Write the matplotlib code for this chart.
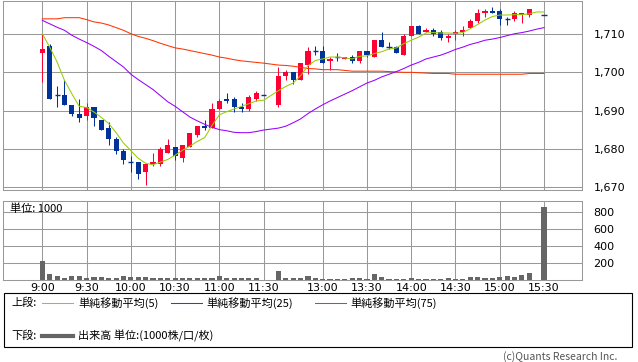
#!/usr/bin/env python3
"""Intraday 5-minute candlestick chart with moving averages and volume."""

import numpy as np
import matplotlib
matplotlib.use('Agg')
import matplotlib.pyplot as plt
from matplotlib.lines import Line2D
from matplotlib.patches import Rectangle
from matplotlib.ticker import FuncFormatter

plt.rcParams['font.family'] = ['Noto Sans CJK JP', 'DejaVu Sans']

# ---- data (5-minute bars, 9:00-11:30 and 12:30-15:30) ----
opens = [1705, 1707, 1694, 1694, 1691.5, 1689, 1688.5, 1691, 1687.5, 1685.5,
         1682.5, 1679.5, 1676.5, 1676.5, 1674, 1676, 1676, 1679, 1680.5, 1677.5,
         1680.5, 1683.5, 1686, 1685.5, 1690.5, 1693, 1693, 1691, 1690.5, 1693, 1694,
         1691.5, 1699, 1700, 1698, 1702, 1705.5, 1705.5, 1703, 1704, 1703.5,
         1704, 1703, 1705.5, 1704, 1708.5, 1706.5, 1706.5, 1704.5, 1709.5, 1712,
         1710.5, 1711, 1710.5, 1709, 1710, 1710.5, 1711.5, 1713.5, 1715.5, 1716,
         1716, 1714, 1714, 1715, 1715, None, 1715]
highs = [1710, 1707.5, 1696.5, 1698, 1691.5, 1693, 1692, 1691, 1687.5, 1687,
         1683, 1680, 1678, 1676.5, 1676, 1679, 1680.5, 1682.5, 1680.5, 1681,
         1684, 1686, 1687.5, 1692, 1693, 1694.5, 1693.5, 1692, 1694, 1695, 1694,
         1701.5, 1700.5, 1700, 1702.5, 1706.5, 1707, 1707, 1704, 1705, 1704,
         1704.5, 1705.5, 1705.5, 1708.5, 1710.5, 1708, 1707, 1710, 1712, 1712.5,
         1711.5, 1711.5, 1711, 1710, 1711, 1712, 1714, 1716.5, 1716.5, 1717,
         1716.5, 1714.5, 1716, 1715.5, 1716.5, None, 1715]
lows = [1697.5, 1693, 1691, 1691.5, 1688.5, 1687, 1687.5, 1686, 1685, 1681,
        1678.5, 1676, 1674, 1672, 1670.5, 1675.5, 1675.5, 1679, 1677, 1676.5,
        1680.5, 1683, 1685, 1685.5, 1690.5, 1692, 1689.5, 1689.5, 1690, 1692.5, 1694,
        1691, 1698, 1697, 1698, 1699.5, 1704.5, 1702.5, 1700.5, 1703, 1703.5,
        1702.5, 1702.5, 1704, 1704, 1706.5, 1706, 1705, 1704.5, 1709.5, 1710,
        1710.5, 1709.5, 1708.5, 1708, 1708.5, 1709.5, 1711.5, 1713, 1714.5, 1715.5,
        1712.5, 1712.5, 1713.5, 1713, 1714.5, None, 1715]
closes = [1706, 1693, 1694, 1691.5, 1689, 1688, 1691, 1688, 1685, 1682.5,
          1679.5, 1677, 1676.5, 1673.5, 1676, 1676.5, 1680, 1681, 1678, 1681,
          1684, 1686, 1685.5, 1690.5, 1692.5, 1692.5, 1691, 1690.5, 1693.5, 1694.5, 1694,
          1699, 1700, 1698, 1702.5, 1705.5, 1705.5, 1702.5, 1703.5, 1704, 1704,
          1703, 1705.5, 1704.5, 1708.5, 1706.5, 1706.5, 1705, 1709.5, 1712, 1710,
          1711, 1710, 1709, 1709.5, 1710.5, 1711, 1713.5, 1715.5, 1716, 1715.5,
          1714, 1714, 1715.5, 1715.5, 1716.5, None, 1715]
ma5 = [1710.1, 1706.6, 1702.7, 1697.9, 1694.4, 1691.1, 1690.8, 1689.6, 1688.2, 1686.6,
       1684.2, 1681.5, 1679.5, 1677.5, 1676.2, 1675.8, 1676.5, 1677.2, 1678.3, 1679.6,
       1680.7, 1681.9, 1682.9, 1686.1, 1688.9, 1689.7, 1690.4, 1691.1, 1691.8, 1692.5, 1692.7,
       1695.2, 1696.3, 1697.2, 1699.1, 1701.7, 1703.1, 1703.5, 1704.0, 1704.0, 1703.8,
       1703.5, 1704.2, 1704.3, 1704.9, 1705.4, 1706.1, 1706.4, 1707.5, 1708.4, 1709.2,
       1710.3, 1710.4, 1710.3, 1710.3, 1710.2, 1710.4, 1711.4, 1712.5, 1713.7, 1714.6,
       1715.0, 1715.0, 1715.1, 1715.1, 1715.3, 1715.8, 1715.8]
ma25 = [1713.6, 1712.7, 1711.8, 1711.0, 1709.7, 1708.7, 1707.8, 1706.8, 1705.7, 1704.2,
        1702.8, 1701.4, 1699.5, 1698.1, 1696.8, 1695.5, 1693.9, 1692.3, 1691.1, 1689.7,
        1688.3, 1687.3, 1686.4, 1685.6, 1685.0, 1684.7, 1684.3, 1684.2, 1684.2, 1684.5, 1684.9,
        1685.4, 1685.9, 1686.8, 1687.8, 1689.2, 1690.4, 1691.5, 1692.5, 1693.4, 1694.3,
        1695.2, 1696.2, 1697.2, 1697.9, 1698.8, 1699.5, 1700.2, 1701.0, 1701.9, 1702.6,
        1703.5, 1704.0, 1704.5, 1705.2, 1706.0, 1706.6, 1707.3, 1707.8, 1708.4, 1708.7,
        1709.1, 1709.6, 1710.1, 1710.4, 1710.8, 1711.3, 1711.7]
ma75 = [1714.0, 1714.0, 1714.0, 1714.3, 1714.3, 1714.3, 1713.8, 1713.2, 1712.9, 1712.4,
        1711.7, 1711.0, 1710.1, 1709.4, 1708.9, 1708.3, 1707.6, 1707.0, 1706.4, 1706.1,
        1705.7, 1705.3, 1704.9, 1704.5, 1704.0, 1703.7, 1703.3, 1703.0, 1702.8, 1702.6, 1702.4,
        1701.9, 1701.8, 1701.6, 1701.3, 1701.0, 1700.9, 1700.7, 1700.7, 1700.7, 1700.5,
        1700.3, 1700.3, 1700.3, 1700.3, 1700.3, 1700.2, 1700.1, 1700.0, 1700.0, 1699.9,
        1699.8, 1699.7, 1699.7, 1699.7, 1699.5, 1699.5, 1699.5, 1699.5, 1699.5, 1699.5,
        1699.5, 1699.5, 1699.5, 1699.5, 1699.7, 1699.7, 1699.7]
volume = [220, 70, 50, 25, 50, 50, 25, 30, 30, 25,
          25, 50, 35, 35, 40, 18, 25, 25, 18, 25,
          18, 25, 18, 25, 50, 18, 25, 18, 18, 18, 5,
          105, 25, 18, 25, 50, 25, 10, 10, 10, 10,
          23, 23, 10, 70, 35, 10, 10, 10, 23, 10,
          10, 10, 10, 23, 10, 10, 35, 35, 23, 23,
          35, 47, 35, 58, 81, None, 850]
tick_labels = ['9:00', '9:30', '10:00', '10:30', '11:00', '11:30',
               '13:00', '13:30', '14:00', '14:30', '15:00', '15:30']
price_ticks = [1670, 1680, 1690, 1700, 1710]
vol_ticks = [200, 400, 600, 800]


def slot_times(start, end):
    out = []
    t = start
    while t <= end:
        out.append(f'{t // 60}:{t % 60:02d}')
        t += 5
    return out


times = slot_times(9 * 60, 11 * 60 + 30) + slot_times(12 * 60 + 30, 15 * 60 + 30)
n_am = 31
# one empty slot between the morning and afternoon sessions
pos = np.array([i if i < n_am else i + 1 for i in range(len(times))])
tick_pos = [pos[times.index(t)] for t in tick_labels]

RED = '#ff0033'
BLUE = '#003399'
GRID = '#999999'
W, H = 638, 362


def fx(x):
    return x / W


def fy(y):
    return 1 - y / H


fig = plt.figure(figsize=(W / 100, H / 100), dpi=100)
ax = fig.add_axes([fx(3.3), fy(190), fx(582.3) - fx(3.3), fy(0.5) - fy(190)])
axv = fig.add_axes([fx(3.3), fy(280), fx(582.3) - fx(3.3), fy(201) - fy(280)])

xlim = (-5.29, 73.19)
w = 0.7

# candles
for x, o, h, l, c in zip(pos, opens, highs, lows, closes):
    if o is None:
        continue
    col = RED if c > o else BLUE
    ax.vlines(x, l, h, color=col, lw=0.75, zorder=3)
    if c == o:
        ax.hlines(c, x - w / 2, x + w / 2, color=col, lw=1, zorder=3)
    else:
        ax.bar(x, abs(c - o), bottom=min(o, c), width=w, color=col, lw=0, zorder=3)

ax.plot(pos, ma75, color='#ff3300', lw=0.75, zorder=4)
ax.plot(pos, ma25, color='#9900ff', lw=0.75, zorder=4)
ax.plot(pos, ma5, color='#99cc00', lw=0.75, zorder=4)

ax.set_xlim(*xlim)
ax.set_ylim(1669.2, 1718.8)
ax.set_yticks(price_ticks)
ax.yaxis.set_major_formatter(FuncFormatter(lambda v, p: f'{v:,.0f}'))
ax.set_xticks(tick_pos)
ax.set_xticklabels([])

# volume
vx = [x for x, v in zip(pos, volume) if v is not None]
vv = [v for v in volume if v is not None]
axv.bar(vx, vv, width=w, color='#666666', lw=0, zorder=3)
axv.set_xlim(*xlim)
axv.set_ylim(0, 925)
axv.set_yticks(vol_ticks)
axv.set_xticks(tick_pos)
axv.set_xticklabels(tick_labels)
axv.text(0.012, 0.9, '単位: 1000', transform=axv.transAxes, fontsize=8,
         va='center', ha='left', zorder=5)

for a in (ax, axv):
    a.yaxis.tick_right()
    a.grid(True, color=GRID, lw=0.75)
    a.set_axisbelow(True)
    a.tick_params(axis='both', length=0, labelsize=8, colors='black')
    a.tick_params(axis='y', pad=8)
    a.tick_params(axis='x', pad=2)
    for s in a.spines.values():
        s.set_color(GRID)
        s.set_linewidth(0.75)
    for lab in a.get_yticklabels() + a.get_xticklabels():
        lab.set_family('DejaVu Sans')

# legend box
fig.add_artist(Rectangle((fx(3.5), fy(347)), fx(632) - fx(3.5), fy(293) - fy(347),
                         transform=fig.transFigure, fill=False, ec='black', lw=0.8))
row1, row2 = fy(303), fy(336)
fig.text(fx(11), row1, '上段:', fontsize=8, va='center')
fig.text(fx(11), row2, '下段:', fontsize=8, va='center')
legend_items = [('#99cc00', 42, 78, '単純移動平均(5)'),
                ('#9900ff', 171, 206, '単純移動平均(25)'),
                ('#ff3300', 315, 350, '単純移動平均(75)')]
for col, x0, xt, label in legend_items:
    fig.add_artist(Line2D([fx(x0), fx(x0 + 31)], [row1, row1], color=col, lw=0.75,
                          transform=fig.transFigure))
    fig.text(fx(xt), row1, label, fontsize=8, va='center')
fig.add_artist(Line2D([fx(42), fx(73)], [row2, row2], color='#666666', lw=3,
                      transform=fig.transFigure))
fig.text(fx(78), row2, '出来高 単位:(1000株/口/枚)', fontsize=8, va='center')

fig.text(fx(617), fy(357), '(c)Quants Research Inc.', fontsize=7.5, color='#555555',
         ha='right', va='center')

fig.savefig('out.png', dpi=100)
